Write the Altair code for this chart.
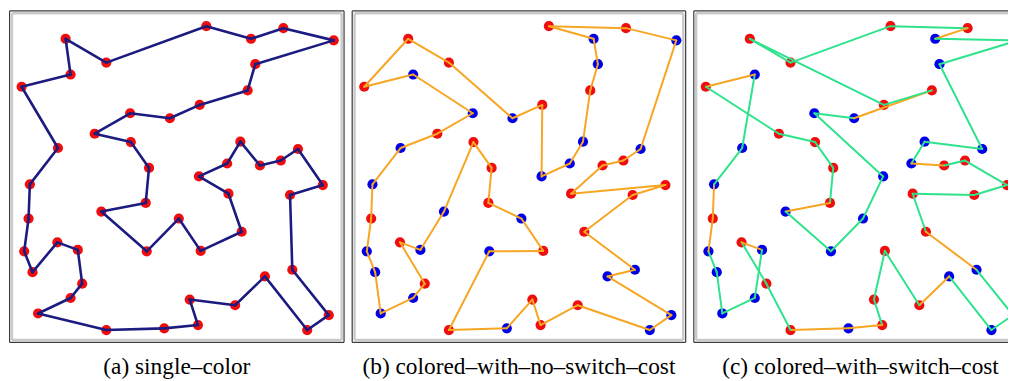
import altair as alt
import pandas as pd

# ---- city coordinates (panel-relative pixels, y grows downward) ----
X = [57.0, 98.0, 198.7, 243.7, 276.3, 327.0, 248.0, 240.3, 192.0, 162.0,
     122.0, 86.3, 122.7, 141.0, 137.7, 93.0, 138.7, 171.0, 193.0, 234.3,
     221.0, 191.3, 219.7, 233.0, 252.7, 273.7, 291.0, 316.0, 283.0, 285.3,
     322.0, 300.3, 257.7, 227.7, 182.0, 190.3, 156.3, 98.0, 29.3, 62.0,
     73.7, 69.3, 48.7, 23.7, 15.3, 19.7, 21.0, 49.3, 12.7, 62.0]
Y = [28.7, 52.7, 16.0, 28.7, 18.0, 30.3, 54.3, 80.7, 95.3, 108.7,
     103.7, 124.3, 132.7, 158.7, 194.0, 202.7, 242.7, 209.7, 242.3, 223.0,
     184.7, 167.3, 154.3, 132.3, 156.3, 151.3, 139.7, 176.0, 186.0, 261.3,
     307.0, 322.0, 268.0, 297.0, 291.3, 317.0, 320.3, 322.0, 305.3, 289.7,
     275.3, 241.3, 233.7, 263.7, 242.7, 209.7, 175.3, 138.7, 77.0, 64.7]
# colour class of each city in panels (b) and (c)
CLASS = ["R", "R", "R", "B", "R", "B", "B", "R", "R", "B",
         "B", "R", "R", "R", "R", "B", "B", "B", "R", "R",
         "R", "B", "B", "B", "R", "R", "B", "R", "R", "B",
         "B", "B", "B", "R", "R", "R", "B", "R", "B", "B",
         "R", "B", "R", "B", "B", "R", "B", "B", "R", "B"]

# tours (1-based city ids, closed cycles)
TOUR_A = list(range(1, 51))
TOUR_B = [3, 5, 6, 27, 26, 25, 21, 28, 29, 20, 30, 33, 31, 32, 34, 36, 35, 37, 38, 17,
          19, 18, 15, 14, 13, 16, 42, 43, 41, 40, 39, 44, 45, 46, 47, 48, 12, 11, 50, 49,
          1, 2, 10, 9, 22, 23, 24, 8, 7, 4]
TOUR_C = [1, 2, 3, 5, 4, 6, 7, 27, 24, 23, 25, 26, 28, 29, 21, 20, 30, 31, 32, 33,
          34, 19, 35, 36, 37, 38, 41, 43, 42, 40, 39, 44, 45, 46, 47, 48, 50, 49, 12, 13,
          14, 15, 16, 17, 18, 22, 11, 10, 8, 9]

CAPTIONS = ["(a) single–color", "(b) colored–with–no–switch–cost", "(c) colored–with–switch–cost"]

RED = "#f00d0d"
BLUE = "#0000e8"
NAVY = "#1b1b80"
ORANGE = "#f7a623"
GREEN = "#2ee38b"
PT = {"R": RED, "B": BLUE}
SERIF = "Liberation Serif"

H = 335


def frame_lines(W, cut):
    """Outer dark frame and inner light-grey frame of a panel (decoration only)."""
    one = pd.DataFrame({"k": [0]})
    layers = []
    specs = [("#3a3a3a", 1.2, 0.6), ("#c9c9c9", 2.4, 3.0)]
    for col, sw, ins in specs:
        base = alt.Chart(one).mark_rule(color=col, strokeWidth=sw)
        xr = W if cut else W - ins
        layers.append(base.encode(x=alt.value(ins), x2=alt.value(xr), y=alt.value(ins)))
        layers.append(base.encode(x=alt.value(ins), x2=alt.value(xr), y=alt.value(H - ins)))
        layers.append(base.encode(x=alt.value(ins), y=alt.value(ins), y2=alt.value(H - ins)))
        if not cut:
            layers.append(base.encode(x=alt.value(W - ins), y=alt.value(ins), y2=alt.value(H - ins)))
    return layers


def panel(tour, mode, W, caption, dx, cut=False):
    pts = pd.DataFrame({
        "x": X, "y": Y,
        "c": [RED if mode == "a" else PT[k] for k in CLASS],
    })
    rows = []
    n = len(tour)
    for i in range(n):
        a = tour[i] - 1
        b = tour[(i + 1) % n] - 1
        if mode == "a":
            col = NAVY
        elif mode == "b":
            col = ORANGE
        else:
            col = GREEN if CLASS[a] == CLASS[b] else ORANGE
        rows.append({"x": X[a], "y": Y[a], "x2": X[b], "y2": Y[b], "c": col})
    edges = pd.DataFrame(rows)

    xs = alt.Scale(domain=[0, W], nice=False, zero=False)
    ys = alt.Scale(domain=[0, H], nice=False, zero=False, reverse=True)
    points = alt.Chart(pts).mark_circle(size=105, opacity=1, clip=True).encode(
        x=alt.X("x:Q", scale=xs, axis=None),
        y=alt.Y("y:Q", scale=ys, axis=None),
        color=alt.Color("c:N", scale=None, legend=None),
    )
    lw = 2.6 if mode == "a" else 2.0
    lines = alt.Chart(edges).mark_rule(strokeWidth=lw, strokeCap="round", clip=True).encode(
        x=alt.X("x:Q", scale=xs, axis=None),
        y=alt.Y("y:Q", scale=ys, axis=None),
        x2="x2:Q", y2="y2:Q",
        color=alt.Color("c:N", scale=None, legend=None),
    )
    return alt.layer(*frame_lines(W, cut), points, lines).properties(
        width=W, height=H,
        title=alt.TitleParams(caption, orient="bottom", anchor="middle", font=SERIF,
                              fontSize=23.5, fontWeight="normal", color="black", offset=12, dx=dx),
    )


pa = panel(TOUR_A, "a", 338, CAPTIONS[0], 0)
pb = panel(TOUR_B, "b", 337, CAPTIONS[1], 0)
pc = panel(TOUR_C, "c", 317, CAPTIONS[2], 10, cut=True)

chart = alt.hconcat(pa, pb, pc, spacing=5).properties(
    padding=0, background="white"
).configure_view(stroke="transparent")

chart.save("out.html", embed_options={"renderer": "svg", "actions": False})
